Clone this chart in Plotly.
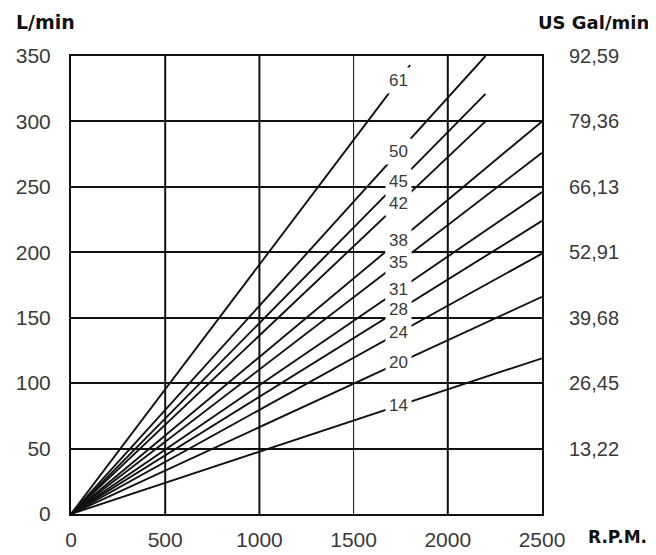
import plotly.graph_objects as go

# ---- data ----
models = [14, 20, 24, 28, 31, 35, 38, 42, 45, 50, 61]
end_rpm = [2500, 2500, 2500, 2500, 2500, 2500, 2500, 2200, 2200, 2200, 1800]
end_flow = [119, 166, 199, 224, 246, 276, 300, 300, 321, 350, 343]
label_rpm = 1740

rpm_ticks = [0, 500, 1000, 1500, 2000, 2500]
thick_grid_rpm = [500, 1000, 2000]
thin_grid_rpm = [1500]
lmin_ticks = [0, 50, 100, 150, 200, 250, 300, 350]
gal_ticks = [50, 100, 150, 200, 250, 300, 350]
gal_labels = ["13,22", "26,45", "39,68", "52,91", "66,13", "79,36", "92,59"]

TXT = "#3a3a3a"
FONT = "Liberation Sans"
BOLD = "DejaVu Sans"

fig = go.Figure()

for m, xr, yf in zip(models, end_rpm, end_flow):
    fig.add_trace(go.Scatter(
        x=[0, xr], y=[0, yf], mode="lines",
        line=dict(color="#111111", width=1.9),
        showlegend=False, hoverinfo="skip"))

# invisible trace for secondary axis
fig.add_trace(go.Scatter(x=[0], y=[0], yaxis="y2", mode="markers",
                         marker=dict(opacity=0), showlegend=False, hoverinfo="skip"))

# vertical grid lines
for g in thick_grid_rpm:
    fig.add_shape(type="line", xref="x", yref="paper", x0=g, x1=g, y0=0, y1=1,
                  line=dict(color="#111111", width=2), layer="below")
for g in thin_grid_rpm:
    fig.add_shape(type="line", xref="x", yref="paper", x0=g, x1=g, y0=0, y1=1,
                  line=dict(color="#111111", width=1), layer="below")

# line labels
for m, xr, yf in zip(models, end_rpm, end_flow):
    fig.add_annotation(x=label_rpm, y=yf / xr * label_rpm, text=str(m),
                       showarrow=False, bgcolor="white", borderpad=3,
                       font=dict(family=FONT, size=17, color=TXT))

fig.add_annotation(xref="paper", yref="paper", x=-0.122, y=1.074, xanchor="left",
                   yanchor="middle", text="<b>L/min</b>", showarrow=False,
                   font=dict(family=BOLD, size=19, color="#111111"))
fig.add_annotation(xref="paper", yref="paper", x=1.232, y=1.074, xanchor="right",
                   yanchor="middle", text="<b>US Gal/min</b>", showarrow=False,
                   font=dict(family=BOLD, size=18, color="#111111"))
fig.add_annotation(xref="paper", yref="paper", x=1.093, y=-0.05, xanchor="left",
                   yanchor="middle", text="<b>R.P.M.</b>", showarrow=False,
                   font=dict(family=BOLD, size=17, color="#111111"))

fig.update_layout(
    template="none",
    width=648, height=547,
    margin=dict(l=63, r=114, t=48, b=41, autoexpand=False),
    paper_bgcolor="white", plot_bgcolor="white",
    font=dict(family=FONT, size=21, color=TXT),
    xaxis=dict(range=[0, 2500], tickvals=rpm_ticks, showgrid=False, zeroline=False,
               showline=True, mirror=True, linecolor="#111111", linewidth=2,
               ticks="", ticklabelstandoff=6, automargin=False,
               tickfont=dict(family=FONT, size=21, color=TXT)),
    yaxis=dict(range=[0, 350], tickvals=lmin_ticks, showgrid=True, gridcolor="#111111",
               gridwidth=2, zeroline=False, showline=True, mirror=True,
               linecolor="#111111", linewidth=2, ticks="", ticklabelstandoff=14,
               automargin=False,
               tickfont=dict(family=FONT, size=21, color=TXT)),
    yaxis2=dict(range=[0, 350], overlaying="y", side="right", tickvals=gal_ticks,
                ticktext=gal_labels, showgrid=False, zeroline=False, showline=False,
                ticks="", ticklabelstandoff=26, automargin=False,
                tickfont=dict(family=FONT, size=20, color=TXT)),
)

fig.write_html("out.html")
